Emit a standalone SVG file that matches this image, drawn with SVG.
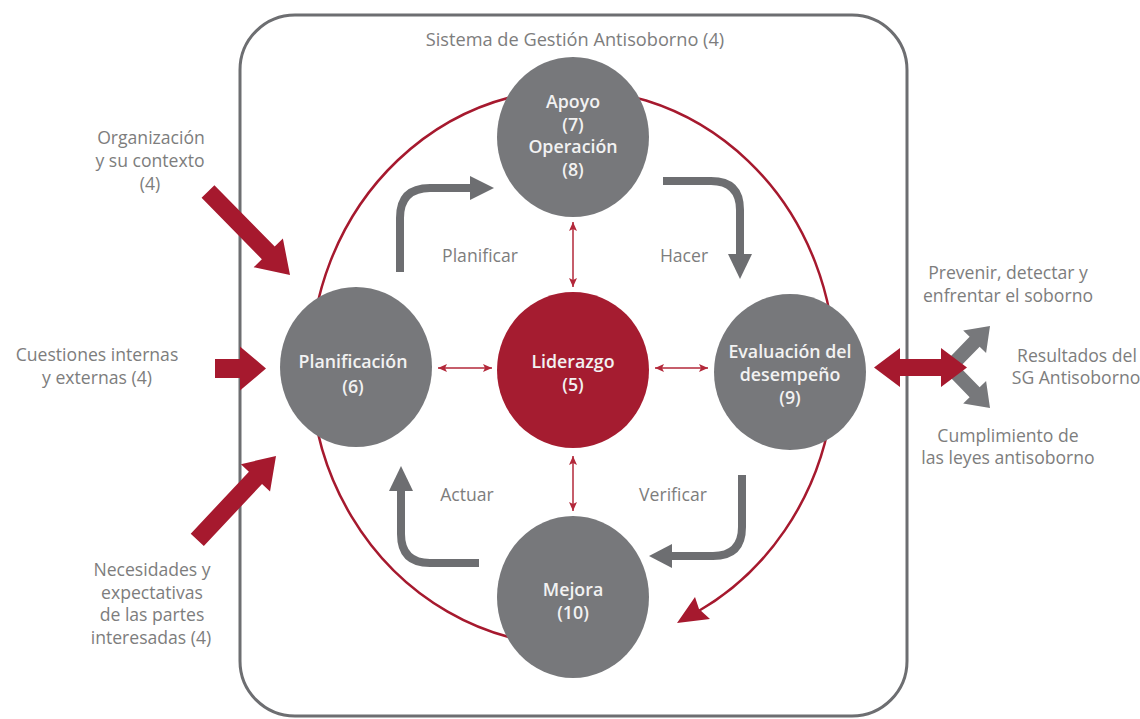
<svg xmlns="http://www.w3.org/2000/svg" width="1140" height="719" viewBox="0 0 1140 719">
<defs>
<style>
.frame{fill:none;stroke:#6d6e71;stroke-width:3}
.node{fill:#77787b}
.lead{fill:#a51c30}
.nt{font-family:"Open Sans","Liberation Sans",sans-serif;font-size:17.8px;font-weight:600;fill:#f2f2f2;text-anchor:middle}
.lt{font-family:"Open Sans","Liberation Sans",sans-serif;font-size:17.6px;fill:#7d7d7d;text-anchor:middle}
.tt{font-size:18.2px}
.cyc{fill:none;stroke:#6d6e71;stroke-width:8}
.cyh{fill:#6d6e71}
.red{fill:#a6192e}
.gry{fill:#77787b}
.ring{fill:none;stroke:#a6192e;stroke-width:2.5}
.thin{stroke:#b3283a;stroke-width:1.5;marker-start:url(#mh);marker-end:url(#mh)}
</style>
<marker id="mh" markerUnits="userSpaceOnUse" markerWidth="10" markerHeight="8" refX="9" refY="4" orient="auto-start-reverse">
<path d="M0,0 L9,4 L0,8 L2,4 Z" fill="#b3283a"/>
</marker>
</defs>
<rect class="frame" x="240" y="15" width="667" height="701" rx="55" ry="55"/>
<text class="lt tt" x="575" y="46">Sistema de Gestión Antisoborno (4)</text>
<g id="connectors">
<path class="ring" d="M560,645 A262,278 0 1 1 697,612"/>
<polygon class="red" points="677,623 695,597 699,609 710,619"/>
<path class="cyc" d="M400,272 V218 Q400,188 430,188 H472"/>
<polygon class="cyh" points="470,176 494,188 470,200"/>
<path class="cyc" d="M663,181 H711 Q740,181 740,210 V256"/>
<polygon class="cyh" points="728,254 740,279 752,254"/>
<path class="cyc" d="M742,475 V527 Q742,556 713,556 H670"/>
<polygon class="cyh" points="672,544 649,556 672,568"/>
<path class="cyc" d="M479,563 H430 Q401,563 401,534 V489"/>
<polygon class="cyh" points="389,491 401,466 413,491"/>
<line class="thin" x1="573" y1="222" x2="573" y2="287"/>
<line class="thin" x1="573" y1="456" x2="573" y2="511"/>
<line class="thin" x1="438" y1="368" x2="492" y2="368"/>
<line class="thin" x1="655" y1="368" x2="708" y2="368"/>
<polygon class="red" transform="translate(290,275) rotate(45.5)" points="-117,-9 -31,-9 -31,-20.5 0,0 -31,20.5 -31,9 -117,9"/>
<polygon class="red" transform="translate(266,368.5)" points="-51,-9.5 -26,-9.5 -26,-22 0,0 -26,22 -26,9.5 -51,9.5"/>
<polygon class="red" transform="translate(276,456) rotate(-46.8)" points="-115,-9 -30,-9 -30,-20 0,0 -30,20 -30,9 -115,9"/>
<polygon class="gry" transform="translate(990,326) rotate(-45.7)" points="-57,-7 -22,-7 -22,-16 0,0 -22,16 -22,7 -57,7"/>
<polygon class="gry" transform="translate(990,408) rotate(45.7)" points="-57,-7 -22,-7 -22,-16 0,0 -22,16 -22,7 -57,7"/>
<polygon class="red" points="874,367.5 900,348 900,359 941,359 941,348 967,367.5 941,387 941,376 900,376 900,387"/>
</g>
<g id="n-apoyo">
<ellipse class="node" cx="573" cy="137" rx="76" ry="80"/>
<text class="nt" x="573" y="108">Apoyo</text>
<text class="nt" x="573" y="130.5">(7)</text>
<text class="nt" x="573" y="153">Operación</text>
<text class="nt" x="573" y="175.5">(8)</text>
</g>
<g id="n-planificacion">
<ellipse class="node" cx="356" cy="367" rx="76" ry="80"/>
<text class="nt" x="353" y="368">Planificación</text>
<text class="nt" x="353" y="393">(6)</text>
</g>
<g id="n-liderazgo">
<ellipse class="lead" cx="573" cy="370" rx="76" ry="78"/>
<text class="nt" x="573" y="368">Liderazgo</text>
<text class="nt" x="573" y="391">(5)</text>
</g>
<g id="n-evaluacion">
<ellipse class="node" cx="790" cy="372" rx="76" ry="78"/>
<text class="nt" x="790" y="358">Evaluación del</text>
<text class="nt" x="790" y="381">desempeño</text>
<text class="nt" x="790" y="404">(9)</text>
</g>
<g id="n-mejora">
<ellipse class="node" cx="573" cy="597" rx="76" ry="81"/>
<text class="nt" x="573" y="596">Mejora</text>
<text class="nt" x="573" y="619">(10)</text>
</g>
<g id="labels">
<text class="lt" x="480" y="262">Planificar</text>
<text class="lt" x="684" y="262">Hacer</text>
<text class="lt" x="467" y="501">Actuar</text>
<text class="lt" x="673" y="501">Verificar</text>
</g>
<g id="in-organizacion">
<text class="lt" x="151" y="144">Organización</text>
<text class="lt" x="150" y="167">y su contexto</text>
<text class="lt" x="150" y="190">(4)</text>
</g>
<g id="in-cuestiones">
<text class="lt" x="97" y="361">Cuestiones internas</text>
<text class="lt" x="97" y="384">y externas (4)</text>
</g>
<g id="in-necesidades">
<text class="lt" x="152" y="576">Necesidades y</text>
<text class="lt" x="152" y="598.5">expectativas</text>
<text class="lt" x="152" y="621">de las partes</text>
<text class="lt" x="151" y="643.5">interesadas (4)</text>
</g>
<g id="out-prevenir">
<text class="lt" x="1008" y="279">Prevenir, detectar y</text>
<text class="lt" x="1008" y="302">enfrentar el soborno</text>
</g>
<g id="out-resultados">
<text class="lt" x="1077" y="362">Resultados del</text>
<text class="lt" x="1076" y="384">SG Antisoborno</text>
</g>
<g id="out-cumplimiento">
<text class="lt" x="1008" y="442">Cumplimiento de</text>
<text class="lt" x="1008" y="464">las leyes antisoborno</text>
</g>
</svg>
